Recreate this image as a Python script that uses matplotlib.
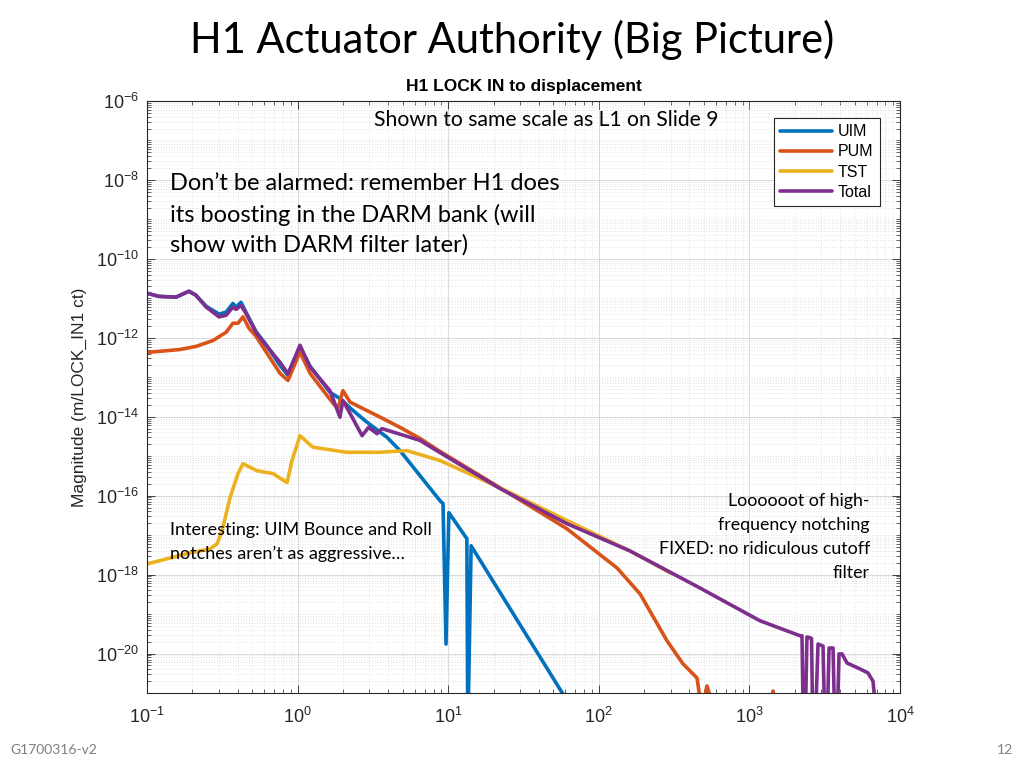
import numpy as np
import matplotlib
matplotlib.use("Agg")
import matplotlib.pyplot as plt
from matplotlib.ticker import LogLocator, NullFormatter

# ---------------- data (magnitudes as log10) ----------------
uim_f = [0.1, 0.120, 0.156, 0.190, 0.211, 0.247, 0.301, 0.335, 0.372, 0.390, 0.421,
         0.454, 0.529, 0.617, 0.764, 0.863, 1.037, 1.21, 1.64, 1.91, 2.33, 2.89,
         3.92, 4.79, 8.83, 9.24, 9.67, 10.1, 13.3, 13.5, 14.2, 65]
uim_m = [-10.87, -10.95, -10.97, -10.82, -10.92, -11.20, -11.40, -11.35, -11.13,
         -11.22, -11.10, -11.35, -11.84, -12.17, -12.70, -12.95, -12.24, -12.72,
         -13.38, -13.54, -13.84, -14.14, -14.52, -14.86, -16.13, -16.20, -19.76,
         -16.43, -17.09, -22.0, -17.27, -21.34]

pum_f = [0.1, 0.163, 0.211, 0.274, 0.335, 0.372, 0.402, 0.434, 0.476, 0.529, 0.764,
         0.863, 1.037, 1.21, 1.72, 1.85, 2.00, 2.23, 3.53, 4.79, 6.50, 8.83, 22.1,
         61.5, 132, 188, 284, 362, 449, 485, 523, 591, 1400, 1436, 1470]
pum_m = [-12.37, -12.30, -12.22, -12.07, -11.86, -11.63, -11.63, -11.47, -11.76,
         -11.96, -12.90, -13.08, -12.36, -12.90, -13.66, -13.79, -13.34, -13.63,
         -14.01, -14.27, -14.55, -14.88, -15.80, -16.84, -17.83, -18.49, -19.68,
         -20.26, -20.62, -21.5, -20.82, -21.5, -21.5, -20.95, -21.5]

tst_f = [0.1, 0.193, 0.262, 0.292, 0.315, 0.356, 0.402, 0.434, 0.537, 0.687, 0.851,
         0.918, 1.037, 1.26, 2.10, 3.53, 5.33, 8.83, 22.1, 61.5, 161, 300]
tst_m = [-17.73, -17.45, -17.35, -17.22, -16.89, -16.05, -15.44, -15.19, -15.37,
         -15.44, -15.67, -15.11, -14.48, -14.77, -14.90, -14.90, -14.86, -15.11,
         -15.80, -16.63, -17.40, -17.96]

tot_f = [0.1, 0.120, 0.156, 0.190, 0.211, 0.247, 0.301, 0.335, 0.372, 0.390, 0.421,
         0.454, 0.529, 0.617, 0.764, 0.863, 1.037, 1.21, 1.64, 1.91, 2.00, 2.30,
         2.68, 2.96, 3.37, 3.63, 6.50, 8.83, 22.1, 61.5, 161, 470, 1176, 2170,
         2235, 2285, 2345, 2410, 2530, 2585, 2640, 2730, 2855, 3082, 3177, 3276,
         3380, 3592, 3700, 3817, 3936, 4121, 4450, 5422, 6124, 6620, 6930]
tot_m = [-10.87, -10.95, -10.97, -10.82, -10.92, -11.22, -11.47, -11.43, -11.22,
         -11.28, -11.18, -11.38, -11.86, -12.19, -12.62, -12.91, -12.19, -12.74,
         -13.34, -14.01, -13.59, -14.01, -14.48, -14.27, -14.43, -14.30, -14.60,
         -14.91, -15.82, -16.71, -17.40, -18.34, -19.17, -19.55, -19.55, -22.0,
         -22.0, -19.58, -19.60, -19.62, -22.0, -22.0, -19.76, -19.81, -22.0, -22.0,
         -19.86, -19.86, -22.0, -22.0, -20.01, -20.01, -20.24, -20.39, -20.49,
         -20.70, -21.5]

series_names = ["UIM", "PUM", "TST", "Total"]
series_colors = ["#0072BD", "#D95319", "#EDB120", "#7E2F8E"]

x_ticks = [1e-1, 1e0, 1e1, 1e2, 1e3, 1e4]
y_ticks = [1e-20, 1e-18, 1e-16, 1e-14, 1e-12, 1e-10, 1e-8, 1e-6]

# ---------------- figure ----------------
plt.rcParams['font.family'] = ['Liberation Sans', 'DejaVu Sans']
plt.rcParams['mathtext.default'] = 'regular'

fig = plt.figure(figsize=(10.24, 7.68), dpi=100)
ax = fig.add_axes([147/1024, 1-693/768, (900-147)/1024, (693-101)/768])

data = [(uim_f, uim_m), (pum_f, pum_m), (tst_f, tst_m), (tot_f, tot_m)]
for (f, m), name, c in zip(data, series_names, series_colors):
    ax.plot(f, 10.0**np.array(m), color=c, lw=2.6, label=name,
            solid_joinstyle='round', solid_capstyle='round')

ax.set_xscale('log')
ax.set_yscale('log')
ax.set_xlim(1e-1, 1e4)
ax.set_ylim(1e-21, 1e-6)
ax.set_xticks(x_ticks)
ax.set_yticks(y_ticks)
ax.xaxis.set_minor_locator(LogLocator(base=10, subs=np.arange(2, 10), numticks=1000))
ax.yaxis.set_minor_locator(LogLocator(base=10, subs=np.arange(1, 10), numticks=1000))
ax.xaxis.set_minor_formatter(NullFormatter())
ax.yaxis.set_minor_formatter(NullFormatter())

ax.grid(which='major', color='#dadada', lw=0.7, ls='-')
ax.grid(which='minor', color='#d2d2d2', lw=0.55, ls=(0, (1, 2.5)))
ax.set_axisbelow(True)

for sp in ax.spines.values():
    sp.set_color('#262626')
    sp.set_linewidth(0.8)
ax.tick_params(which='both', direction='in', top=True, right=True, colors='#262626',
               labelsize=13)
ax.tick_params(which='major', length=6, width=0.6)
ax.tick_params(which='minor', length=3, width=0.5)
ax.tick_params(axis='x', pad=10)
ax.tick_params(axis='y', pad=6)

ax.set_ylabel('Magnitude (m/LOCK_IN1 ct)', fontsize=12.5, color='#262626', labelpad=6)
ax.set_title('H1 LOCK IN to displacement', fontsize=12.5, fontweight='bold', pad=7)

leg = ax.legend(loc='upper right', bbox_to_anchor=(880/1024, 1-118/768),
                bbox_transform=fig.transFigure, borderaxespad=0, fancybox=False,
                framealpha=1, edgecolor='#262626', fontsize=11.5, handlelength=3.2,
                labelspacing=0.32, handletextpad=0.4, borderpad=0.4)
leg.get_frame().set_linewidth(0.8)

# ---------------- slide texts ----------------
ff = ['Lato', 'DejaVu Sans']
fig.text(0.5, 1-40/768, 'H1 Actuator Authority (Big Picture)', ha='center', va='center',
         fontsize=30, family=ff)
fig.text(546/1024, 1-120/768, 'Shown to same scale as L1 on Slide 9', ha='center',
         va='center', fontsize=15.2, family=ff)
for i, line in enumerate(['Don’t be alarmed: remember H1 does',
                          'its boosting in the DARM bank (will',
                          'show with DARM filter later)']):
    fig.text(170/1024, 1-(184+30.5*i)/768, line, ha='left', va='center',
             fontsize=17, family=ff)
for i, line in enumerate(['Interesting: UIM Bounce and Roll',
                          'notches aren’t as aggressive…']):
    fig.text(170/1024, 1-(530+24*i)/768, line, ha='left', va='center',
             fontsize=13, family=ff)
for i, line in enumerate(['Loooooot of high-', 'frequency notching',
                          'FIXED: no ridiculous cutoff', 'filter']):
    fig.text(870/1024, 1-(501+24*i)/768, line, ha='right', va='center',
             fontsize=12.8, family=ff)
fig.text(10/1024, 1-750/768, 'G1700316-v2', ha='left', va='center', fontsize=10,
         color='#7f7f7f', family=ff)
fig.text(1013/1024, 1-750/768, '12', ha='right', va='center', fontsize=10,
         color='#7f7f7f', family=ff)

fig.savefig('out.png', dpi=100)
